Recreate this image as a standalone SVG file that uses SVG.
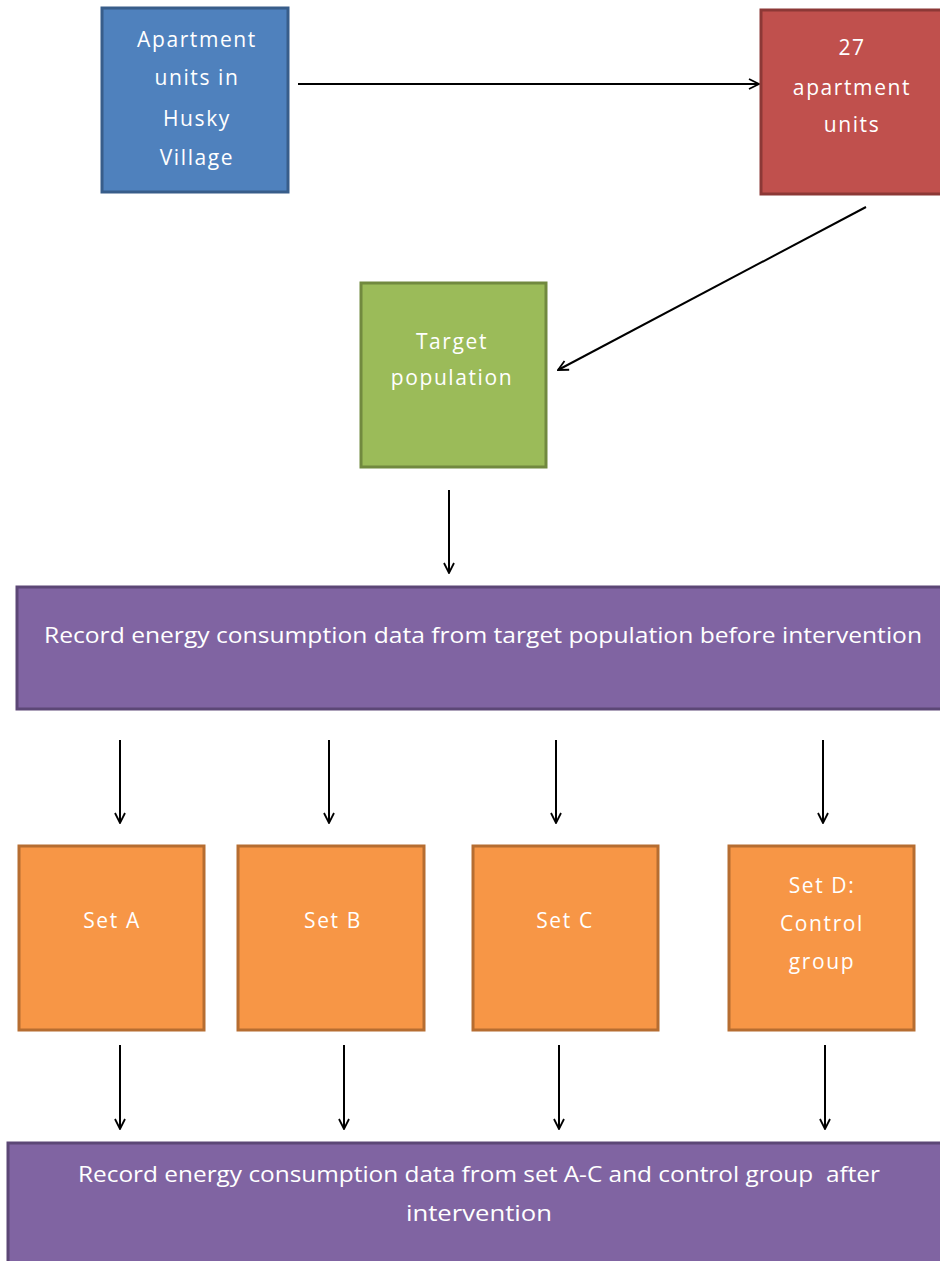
<svg xmlns="http://www.w3.org/2000/svg" width="940" height="1261" viewBox="0 0 940 1261">
<defs>
<marker id="arr" viewBox="0 0 12 12" refX="11" refY="6" markerWidth="12" markerHeight="12" markerUnits="userSpaceOnUse" orient="auto">
<path d="M1,1 L11,6 L1,11" fill="none" stroke="#000" stroke-width="1.8"/>
</marker>
<style>
.t{font-family:"Open Sans","Liberation Sans",sans-serif;font-size:21px;letter-spacing:1.6px;fill:#fff;text-anchor:middle}
.w{font-family:"Open Sans","Liberation Sans",sans-serif;font-size:21px;fill:#fff;text-anchor:middle}
.c{stroke:#000;stroke-width:2;fill:none;marker-end:url(#arr)}
.blue{fill:#4F81BD;stroke:#385D8A;stroke-width:3}
.red{fill:#C0504D;stroke:#8C3836;stroke-width:3}
.green{fill:#9BBB59;stroke:#71893F;stroke-width:3}
.purple{fill:#8064A2;stroke:#5C4776;stroke-width:3}
.orange{fill:#F79646;stroke:#B66D31;stroke-width:3}
</style>
</defs>
<rect width="940" height="1261" fill="#fff"/>
<g id="connectors">
<line class="c" x1="298" y1="84" x2="759" y2="84"/>
<line class="c" x1="866" y1="207" x2="558" y2="370"/>
<line class="c" x1="449" y1="490" x2="449" y2="573"/>
<line class="c" x1="120" y1="740" x2="120" y2="823"/>
<line class="c" x1="329" y1="740" x2="329" y2="823"/>
<line class="c" x1="556" y1="740" x2="556" y2="823"/>
<line class="c" x1="823" y1="740" x2="823" y2="823"/>
<line class="c" x1="120" y1="1045" x2="120" y2="1129"/>
<line class="c" x1="344" y1="1045" x2="344" y2="1129"/>
<line class="c" x1="559" y1="1045" x2="559" y2="1129"/>
<line class="c" x1="825" y1="1045" x2="825" y2="1129"/>
</g>
<g id="apartment-units">
<rect class="blue" x="102" y="8" width="186" height="184"/>
<text class="t" x="197" y="47">Apartment</text>
<text class="t" x="197" y="85">units in</text>
<text class="t" x="197" y="126">Husky</text>
<text class="t" x="197" y="165">Village</text>
</g>
<g id="units-27">
<rect class="red" x="761" y="10" width="184" height="184"/>
<text class="t" x="852" y="55">27</text>
<text class="t" x="852" y="95">apartment</text>
<text class="t" x="852" y="132">units</text>
</g>
<g id="target-population">
<rect class="green" x="361" y="283" width="185" height="184"/>
<text class="t" x="452" y="349">Target</text>
<text class="t" x="452" y="385">population</text>
</g>
<g id="record-before">
<rect class="purple" x="17" y="587" width="930" height="122"/>
<text class="w" x="483" y="643" textLength="878" lengthAdjust="spacingAndGlyphs">Record energy consumption data from target population before intervention</text>
</g>
<g id="set-a">
<rect class="orange" x="19" y="846" width="185" height="184"/>
<text class="t" x="112" y="928">Set A</text>
</g>
<g id="set-b">
<rect class="orange" x="238" y="846" width="186" height="184"/>
<text class="t" x="333" y="928">Set B</text>
</g>
<g id="set-c">
<rect class="orange" x="473" y="846" width="185" height="184"/>
<text class="t" x="565" y="928">Set C</text>
</g>
<g id="set-d">
<rect class="orange" x="729" y="846" width="185" height="184"/>
<text class="t" x="822" y="893">Set D:</text>
<text class="t" x="822" y="931">Control</text>
<text class="t" x="822" y="969">group</text>
</g>
<g id="record-after">
<rect class="purple" x="8" y="1143" width="940" height="130"/>
<text class="w" x="479" y="1182" textLength="802" lengthAdjust="spacingAndGlyphs" style="white-space:pre">Record energy consumption data from set A-C and control group  after</text>
<text class="w" x="479" y="1221" textLength="146" lengthAdjust="spacingAndGlyphs">intervention</text>
</g>
</svg>
